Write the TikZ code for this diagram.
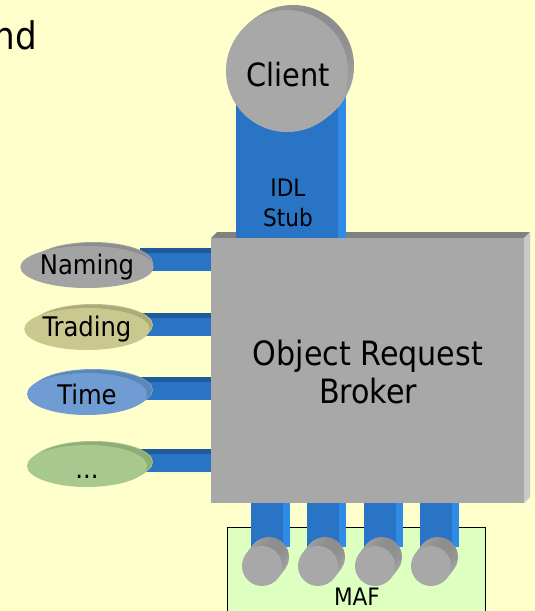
\documentclass[tikz,border=0pt]{standalone}
\usepackage{fontspec}
\setmainfont{DejaVu Sans Condensed}
\usetikzlibrary{shapes.geometric}
\definecolor{bg}{HTML}{FFFFCC}
\definecolor{pblue}{HTML}{2A74C5}
\definecolor{pbluel}{HTML}{2F8BE6}
\definecolor{pblued}{HTML}{1F5A99}
\definecolor{gfront}{HTML}{A8A8A8}
\definecolor{gtop}{HTML}{808080}
\definecolor{gside}{HTML}{C8C8C8}
\definecolor{mafc}{HTML}{DDFFC0}
\definecolor{namf}{HTML}{A3A3A3}
\definecolor{namb}{HTML}{8E8E8E}
\definecolor{traf}{HTML}{C9C98F}
\definecolor{trab}{HTML}{ABAB78}
\definecolor{timf}{HTML}{6F9CD2}
\definecolor{timb}{HTML}{5A86BA}
\definecolor{dotf}{HTML}{A8C98D}
\definecolor{dotb}{HTML}{8DAF74}
\tikzset{
  svc/.style={ellipse, minimum width=120pt, minimum height=42pt, inner sep=0pt,
     font=\fontsize{27}{30}\selectfont},
  disc/.style={circle, inner sep=0pt},
  rim/.style={top color=gtop!90, bottom color=gside, shading angle=-35},
}
\begin{document}
\begin{tikzpicture}[x=1pt,y=-1pt]
\fill[bg] (0,0) rectangle (535,611);
\useasboundingbox (0,0) rectangle (535,611);

% partial word
\node[anchor=base east, inner sep=0pt, font=\fontsize{38}{44}\selectfont] (nd) at (37,49) {nd};

% MAF box
\fill[mafc] (227,527) rectangle (485,611);
\draw[black, line width=1pt] (227,611) -- (227,527) -- (485,527) -- (485,611);
\node[font=\fontsize{24}{28}\selectfont, inner sep=0pt] (maf) at (357,597) {MAF};

% plug columns and discs
\foreach \x/\n in {251/p1,307/p2,364/p3,420/p4}{
  \fill[pblue] (\x,500) rectangle (\x+39,547);
  \fill[pbluel] (\x+32,500) rectangle (\x+39,547);
  \foreach \t in {1,0.85,...,0.1}{
    \shade[rim] (\x+11+7*\t,566-9*\t) circle[radius=20pt];
  }
  \node[disc, minimum size=40pt, fill=gfront] (\n) at (\x+11,566) {};
}

% service bars
\foreach \y in {248,313,377,449}{
  \fill[pblue] (140,\y) rectangle (211,\y+23);
  \fill[pblued] (140,\y) rectangle (211,\y+5);
}

% services
\foreach \yy/\fc/\bc in {267/namf/namb, 329/traf/trab, 394/timf/timb, 466/dotf/dotb}{
  \foreach \t in {1,0.8,...,0.1}{
    \fill[\bc!80!white] (87+6*\t,\yy-4*\t) ellipse[x radius=60pt, y radius=21pt];
  }
  \fill[\bc] (93,\yy-4) ellipse[x radius=59pt, y radius=20pt];
}
\node[svc, fill=namf] (naming) at (87,267) {Naming};
\node[svc, fill=traf] (trading) at (87,329) {Trading};
\node[svc, fill=timf] (time) at (87,394) {Time};
\node[svc, fill=dotf] (more) at (87,466) {};
\node[anchor=base, inner sep=0pt, font=\fontsize{27}{30}\selectfont] (dots) at (87,478) {...};

% ORB box
\fill[gtop] (211,238) -- (217,232) -- (530,232) -- (524,238) -- cycle;
\fill[gside] (524,238) -- (530,232) -- (530,497) -- (524,503) -- cycle;
\node[fill=gfront, minimum width=313pt, minimum height=265pt, anchor=north west, inner sep=0pt] (orb) at (211,238) {};
\node[align=center, font=\fontsize{33.5}{38}\selectfont] (orbt) at (368,372) {Object Request\\Broker};

% IDL stub column
\fill[pblue] (236,95) rectangle (346,238);
\fill[pbluel] (338,95) rectangle (346,238);
\node[align=center, font=\fontsize{24}{30}\selectfont] (idl) at (288,203) {IDL\\Stub};

% Client disc
\foreach \t in {1,0.9,...,0.05}{
  \shade[rim] (287+6*\t,71-5*\t) circle[radius=61pt];
}
\node[disc, minimum size=122pt, fill=gfront] (client) at (287,71) {};
\node[font=\fontsize{32}{38}\selectfont, inner sep=0pt] (clientt) at (288,75) {Client};
\end{tikzpicture}
\end{document}
